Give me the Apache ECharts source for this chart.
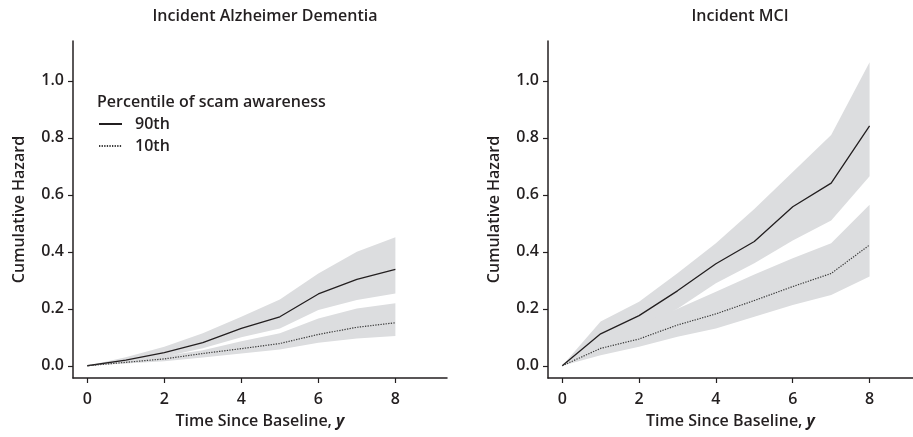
<!DOCTYPE html>
<html>
<head>
<meta charset="utf-8">
<script src="https://cdn.jsdelivr.net/npm/echarts@6/dist/echarts.min.js"></script>
<style>
html,body{margin:0;padding:0;background:#fff;}
#chart{width:913px;height:437px;}
</style>
</head>
<body>
<div id="chart"></div>
<script>
// ---- data ----
const years = [0, 1, 2, 3, 4, 5, 6, 7, 8];
const xTicks = [0, 2, 4, 6, 8];
const yTicks = [0, 0.2, 0.4, 0.6, 0.8, 1.0];
const panelTitles = ['Incident Alzheimer Dementia', 'Incident MCI'];
const legendTitle = 'Percentile of scam awareness';
const seriesNames = ['90th', '10th'];
const xName = 'Time Since Baseline, ';
const xNameItalic = 'y';
const yName = 'Cumulative Hazard';

// Alzheimer dementia
const adHigh      = [0, 0.020, 0.046, 0.081, 0.131, 0.172, 0.252, 0.303, 0.338];
const adHighLower = [0, 0.014, 0.032, 0.061, 0.100, 0.131, 0.196, 0.231, 0.254];
const adHighUpper = [0, 0.030, 0.067, 0.114, 0.172, 0.233, 0.324, 0.400, 0.451];
const adLow       = [0, 0.012, 0.024, 0.043, 0.060, 0.078, 0.110, 0.135, 0.151];
const adLowLower  = [0, 0.008, 0.016, 0.029, 0.043, 0.057, 0.081, 0.096, 0.104];
const adLowUpper  = [0, 0.016, 0.034, 0.054, 0.086, 0.114, 0.166, 0.201, 0.219];

// MCI
const mciHigh      = [0, 0.112, 0.176, 0.263, 0.358, 0.436, 0.558, 0.641, 0.842];
const mciHighLower = [0, 0.073, 0.125, 0.200, 0.290, 0.360, 0.440, 0.510, 0.665];
const mciHighUpper = [0, 0.155, 0.225, 0.325, 0.430, 0.550, 0.680, 0.810, 1.065];
const mciLow       = [0, 0.061, 0.094, 0.143, 0.182, 0.229, 0.278, 0.324, 0.424];
const mciLowLower  = [0, 0.037, 0.067, 0.102, 0.131, 0.172, 0.213, 0.248, 0.313];
const mciLowUpper  = [0, 0.096, 0.143, 0.200, 0.260, 0.320, 0.377, 0.430, 0.565];

// ---- styling ----
const INK = '#231f20';
const BAND = '#dcdddf';
const FONT = 'Open Sans';
const FS = 16;

const pts = (ys) => years.map((x, i) => [x, ys[i]]);

function band(idx, lo, hi) {
  return {
    type: 'custom', xAxisIndex: idx, yAxisIndex: idx, silent: true, z: 1, clip: true,
    data: [[years[0], lo[0]]],
    renderItem: function (params, api) {
      const upper = years.map((x, i) => api.coord([x, hi[i]]));
      const lower = years.map((x, i) => api.coord([x, lo[i]])).reverse();
      return {
        type: 'polygon',
        shape: { points: upper.concat(lower) },
        style: { fill: BAND, stroke: null }
      };
    }
  };
}

function lines(idx, high, low) {
  return [
    {
      name: seriesNames[0], type: 'line', xAxisIndex: idx, yAxisIndex: idx,
      data: pts(high), symbol: 'none', z: 5,
      lineStyle: { color: INK, width: 1.3, type: 'solid' },
      itemStyle: { color: INK }
    },
    {
      name: seriesNames[1], type: 'line', xAxisIndex: idx, yAxisIndex: idx,
      data: pts(low), symbol: 'none', z: 5,
      lineStyle: { color: '#3a3a3a', width: 1.2, type: [1.3, 1.3] },
      itemStyle: { color: '#3a3a3a' }
    }
  ];
}

const labelStyle = { color: INK, fontFamily: FONT, fontWeight: 600, fontSize: FS };

function xAxis(idx, max) {
  return {
    type: 'value', gridIndex: idx, min: -0.37, max: max,
    name: xName + '{i|' + xNameItalic + '}',
    nameLocation: 'middle', nameGap: 35,
    nameTextStyle: Object.assign({}, labelStyle, {
      rich: { i: Object.assign({}, labelStyle, { fontStyle: 'italic', fontWeight: 700 }) }
    }),
    splitLine: { show: false },
    axisLine: { show: true, onZero: false, lineStyle: { color: INK, width: 1.5 } },
    axisTick: { show: true, length: 5, customValues: xTicks, lineStyle: { color: INK, width: 1.2 } },
    axisLabel: Object.assign({ customValues: xTicks, margin: 13, formatter: (v) => String(v) }, labelStyle)
  };
}

function yAxis(idx) {
  return {
    type: 'value', gridIndex: idx, min: -0.043, max: 1.14,
    name: yName, nameLocation: 'middle', nameGap: 46, nameRotate: 90,
    nameTextStyle: labelStyle,
    splitLine: { show: false },
    axisLine: { show: true, onZero: false, lineStyle: { color: INK, width: 1.5 } },
    axisTick: { show: true, length: 5, customValues: yTicks, lineStyle: { color: INK, width: 1.2 } },
    axisLabel: Object.assign({ customValues: yTicks, margin: 9, formatter: (v) => v.toFixed(1) }, labelStyle)
  };
}

const chart = echarts.init(document.getElementById('chart'), null, { renderer: 'canvas' });
chart.setOption({
  backgroundColor: '#fff',
  animation: false,
  title: [
    { text: panelTitles[0], left: 260, top: 3, textAlign: 'center', textStyle: labelStyle },
    { text: panelTitles[1], left: 735, top: 3, textAlign: 'center', textStyle: labelStyle },
    { text: legendTitle, left: 92, top: 89, textStyle: labelStyle }
  ],
  legend: {
    data: seriesNames, orient: 'vertical', left: 93, top: 111,
    itemWidth: 23, itemHeight: 14, itemGap: 6,
    itemStyle: { color: 'rgba(0,0,0,0)', borderColor: 'rgba(0,0,0,0)', borderWidth: 0, opacity: 0 },
    textStyle: Object.assign({}, labelStyle, { padding: [0, 0, 0, 8] }),
    selectedMode: false
  },
  grid: [
    { left: 73, top: 41, width: 374, height: 337, containLabel: false },
    { left: 548, top: 41, width: 365, height: 337, containLabel: false }
  ],
  xAxis: [xAxis(0, 9.34), xAxis(1, 9.13)],
  yAxis: [yAxis(0), yAxis(1)],
  series: [].concat(
    band(0, adHighLower, adHighUpper),
    band(0, adLowLower, adLowUpper),
    band(1, mciHighLower, mciHighUpper),
    band(1, mciLowLower, mciLowUpper),
    lines(0, adHigh, adLow),
    lines(1, mciHigh, mciLow)
  )
});
</script>
</body>
</html>
